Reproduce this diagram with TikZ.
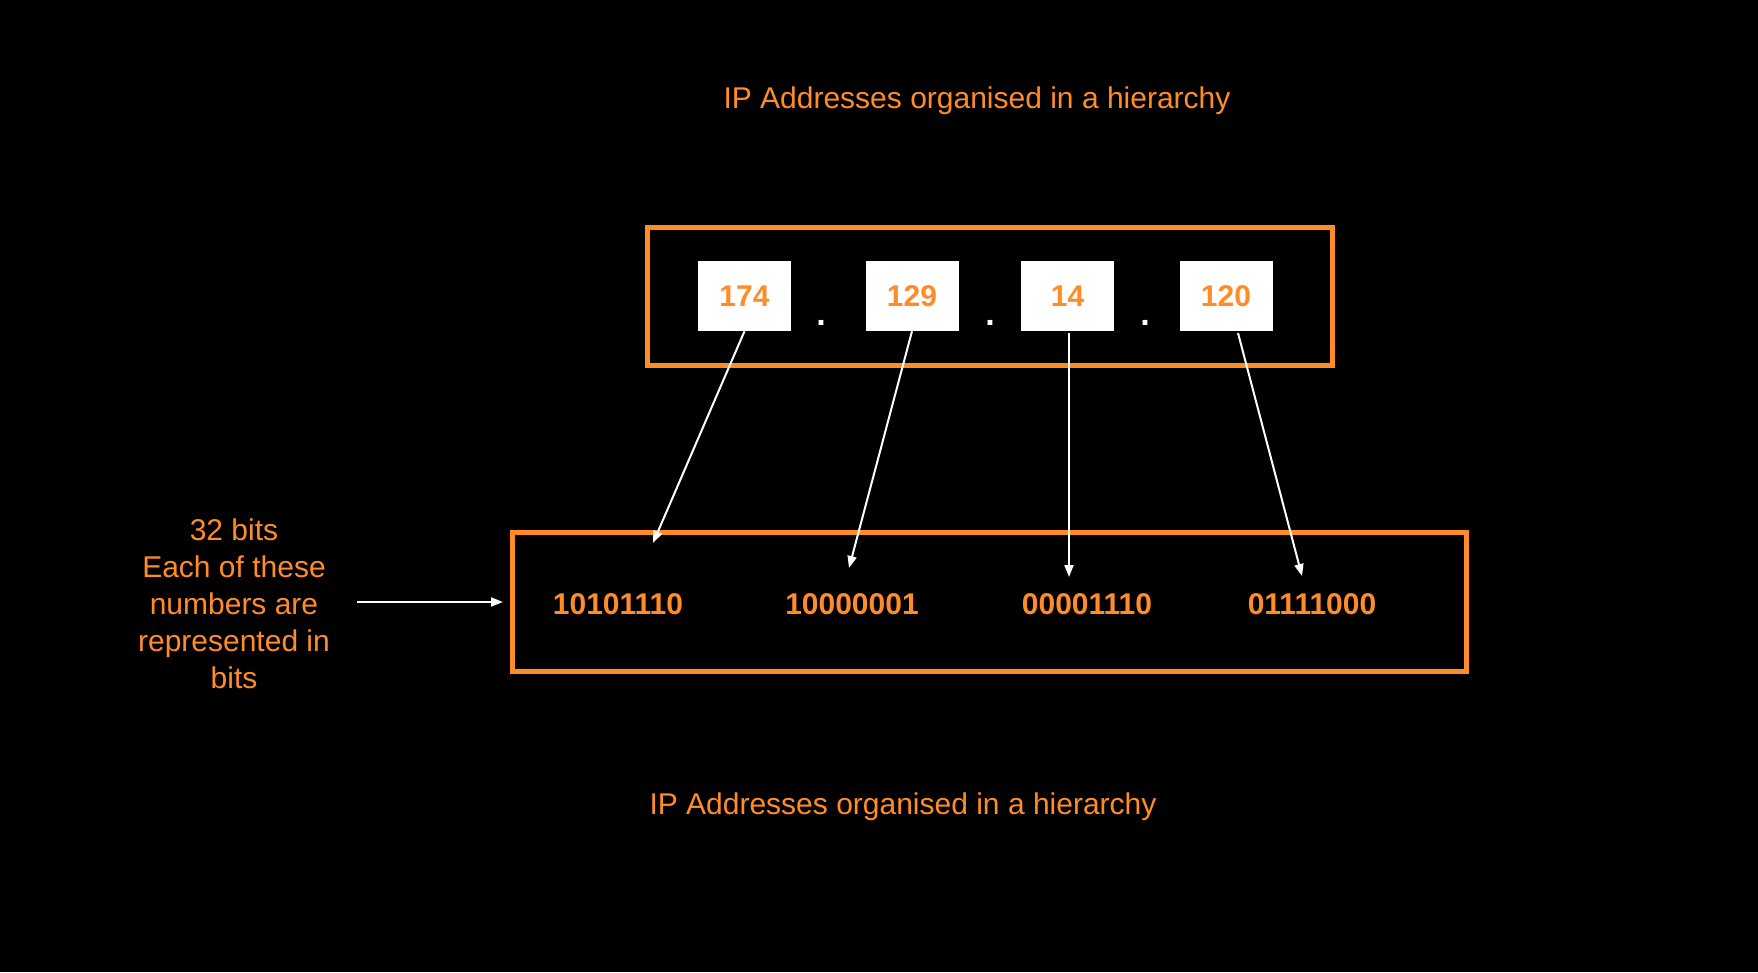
\documentclass[tikz,border=0pt]{standalone}
\usepackage{fontspec}
\setmainfont{Liberation Sans}
\usetikzlibrary{arrows.meta}
\definecolor{ora}{RGB}{255,140,38}
\begin{document}
\begin{tikzpicture}[x=1pt,y=-1pt,
  lbl/.style={text=ora,font=\fontsize{30}{37}\selectfont,inner sep=0pt},
  num/.style={text=ora,font=\fontsize{30}{36}\selectfont\bfseries,inner sep=0pt},
  frame/.style={draw=ora,line width=5pt,inner sep=0pt},
  wbox/.style={fill=white,minimum width=93pt,minimum height=70pt,inner sep=0pt},
  arr/.style={draw=white,line width=2pt,-{Triangle[length=12pt,width=9pt]}},
  dotmark/.style={text=white,font=\fontsize{34}{36}\selectfont\bfseries,inner sep=0pt,anchor=base}]
\fill[black] (0,0) rectangle (1758,972);
\useasboundingbox (0,0) rectangle (1758,972);

\node[lbl] (title) at (977,100.5) {IP Addresses organised in a hierarchy};
\node[lbl] (title2) at (903,806.5) {IP Addresses organised in a hierarchy};

\node[frame,minimum width=685pt,minimum height=138pt] (top) at (989.5,296) {};
\node[frame,minimum width=954pt,minimum height=139pt] (bot) at (989,601.5) {};

\node[wbox] (n1) at (744.5,296) {};
\node[num] at (n1) {174};
\node[wbox] (n2) at (912,296) {};
\node[num] at (n2) {129};
\node[wbox] (n3) at (1067.5,296) {};
\node[num] at (n3) {14};
\node[wbox] (n4) at (1226,296) {};
\node[num] at (n4) {120};

\node[dotmark] (d1) at (821,325) {.};
\node[dotmark] (d2) at (990,325) {.};
\node[dotmark] (d3) at (1145,325) {.};

\node[num] (b1) at (618,604) {10101110};
\node[num] (b2) at (852,604) {10000001};
\node[num] (b3) at (1087,604) {00001110};
\node[num] (b4) at (1312,604) {01111000};

\node[lbl,align=center] (lt) at (234,604) {32 bits\\Each of these\\numbers are\\represented in\\bits};

\coordinate (t1) at (653,543);
\coordinate (t2) at (849,568);
\coordinate (t3) at (1069,577);
\coordinate (t4) at (1302,576);
\coordinate (s4) at (1238,333);
\coordinate (s3) at (1069,333);
\coordinate (a0) at (357,602);
\coordinate (a1) at (503,602);

\draw[arr] (n1.south) -- (t1);
\draw[arr] (n2.south) -- (t2);
\draw[arr] (s3) -- (t3);
\draw[arr] (s4) -- (t4);
\draw[arr] (a0) -- (a1);
\end{tikzpicture}
\end{document}
